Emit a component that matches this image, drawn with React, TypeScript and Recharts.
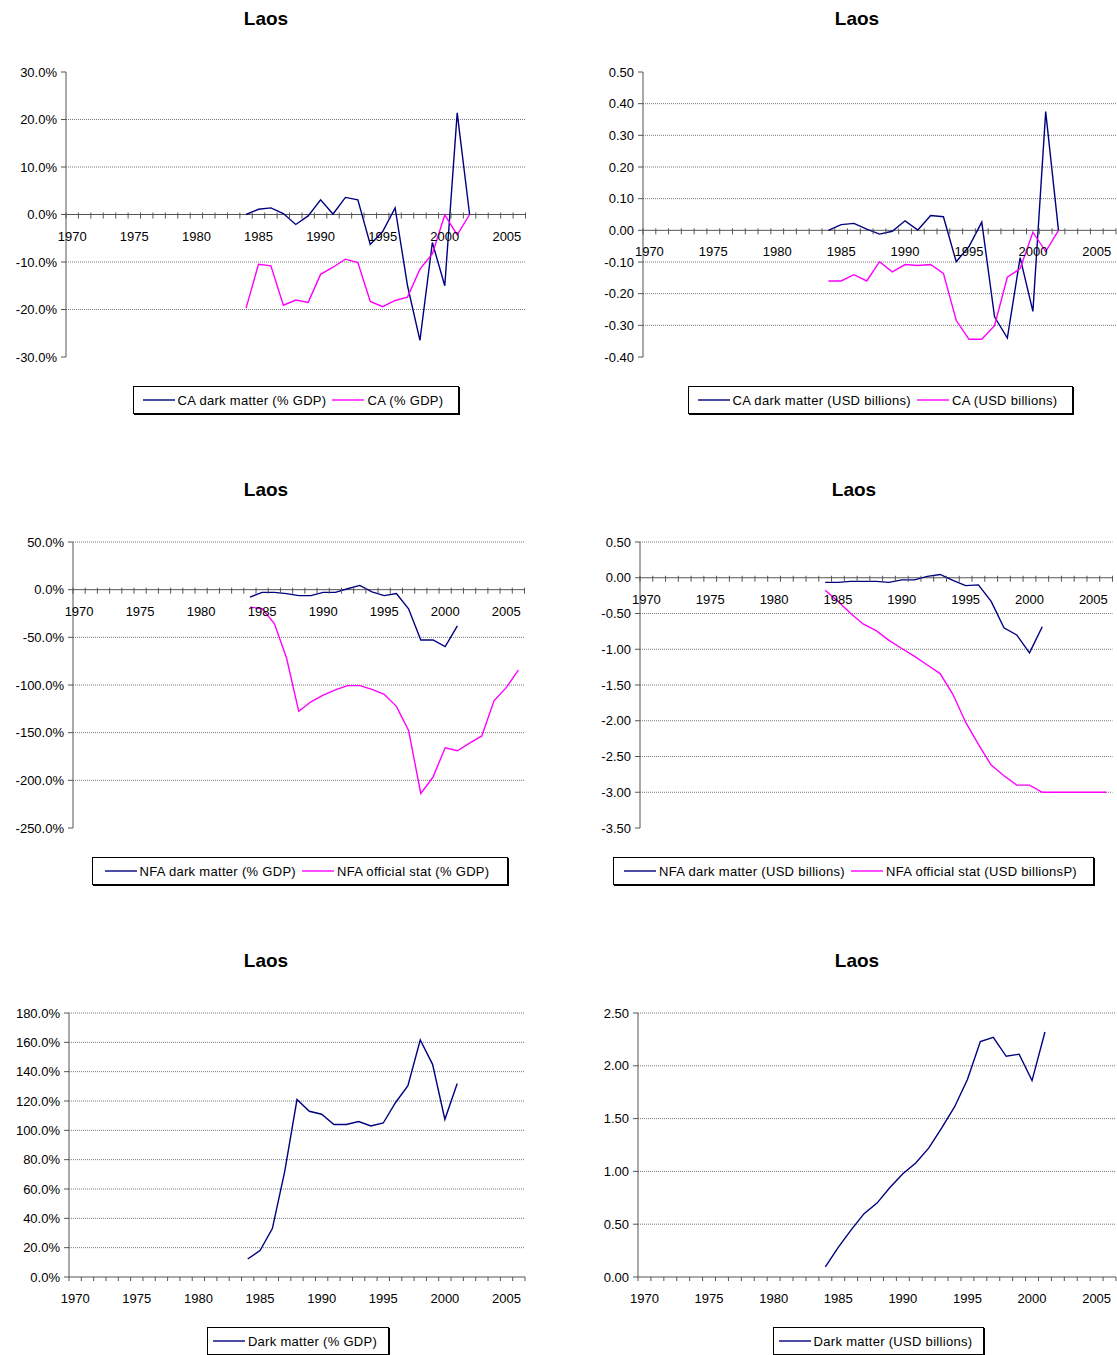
import { LineChart, Line, XAxis, YAxis, CartesianGrid, ReferenceLine } from 'recharts'

const YEARS = [
  1970, 1971, 1972, 1973, 1974, 1975, 1976, 1977, 1978, 1979, 1980, 1981, 1982,
  1983, 1984, 1985, 1986, 1987, 1988, 1989, 1990, 1991, 1992, 1993, 1994, 1995,
  1996, 1997, 1998, 1999, 2000, 2001, 2002, 2003, 2004, 2005, 2006,
]
const FIRST_YEAR = 1984

// current account, % of GDP (1984-2002)
const caDarkPct = [0, 1.1, 1.4, 0.2, -2.1, -0.3, 3.1, 0.1, 3.6, 3.1, -6.3, -3.6, 1.4, -15, -26.5, -5.9, -15, 21.4, 0]
const caPct = [-19.7, -10.5, -10.8, -19.1, -18, -18.5, -12.6, -11.1, -9.4, -10.1, -18.3, -19.4, -18.1, -17.4, -11.5, -8.3, -0.1, -4.3, 0]

// current account, USD billions (1984-2002)
const caDarkUsd = [0, 0.018, 0.022, 0.004, -0.012, -0.003, 0.03, 0.001, 0.047, 0.043, -0.099, -0.051, 0.026, -0.273, -0.34, -0.086, -0.256, 0.375, 0]
const caUsd = [-0.16, -0.16, -0.14, -0.16, -0.099, -0.131, -0.108, -0.111, -0.108, -0.136, -0.284, -0.344, -0.344, -0.301, -0.148, -0.121, -0.006, -0.067, 0]

// net foreign assets, % of GDP
const nfaDarkPct = [-7.9, -2.8, -2.8, -4.1, -6.2, -6.2, -2.8, -2.8, 1, 4.5, -2.4, -6.2, -4.1, -20, -52.8, -52.8, -59.7, -38]
const nfaPct = [-18.3, -20, -35.5, -71.7, -127.6, -117.6, -110.7, -105.2, -100.7, -100.7, -104.5, -109.7, -122.4, -147.6, -213.8, -196.6, -165.9, -169, -161, -153.4, -116.6, -102.8, -84.5]

// net foreign assets, USD billions
const nfaDarkUsd = [-0.065, -0.065, -0.05, -0.05, -0.05, -0.065, -0.03, -0.03, 0.02, 0.046, -0.037, -0.11, -0.1, -0.33, -0.7, -0.8, -1.05, -0.685]
const nfaUsd = [-0.176, -0.33, -0.5, -0.65, -0.74, -0.875, -0.99, -1.1, -1.22, -1.34, -1.63, -2.02, -2.33, -2.62, -2.77, -2.9, -2.9, -3.0, -3.0, -3.0, -3.0, -3.0, -3.0]

// dark matter stock (1984-2001)
const darkPct = [12.3, 18, 33, 71.8, 121, 113, 111, 104, 104, 106, 103, 105, 119, 130.5, 161.6, 145, 107.5, 132]
const darkUsd = [0.095, 0.28, 0.446, 0.6, 0.7, 0.848, 0.978, 1.08, 1.22, 1.41, 1.61, 1.87, 2.23, 2.27, 2.09, 2.11, 1.86, 2.32]

const NAVY = '#000080'
const MAGENTA = '#ff00ff'
const FONT = '"Liberation Sans", Arial, sans-serif'

type Series = { key: string; name: string; color: string; values: number[] }

const pct = (v: number) => `${v.toFixed(1)}%`
const usd = (v: number) => v.toFixed(2)

function buildRows(series: Series[]) {
  return YEARS.map(year => {
    const row: Record<string, number | null> = { year }
    series.forEach(s => {
      const v = s.values[year - FIRST_YEAR]
      row[s.key] = v === undefined ? null : v
    })
    return row
  })
}

type PanelProps = {
  plot: [number, number, number, number] // left, right, top, bottom on page
  title: [number, number]
  legend: [number, number, number]
  domain: [number, number]
  ticks: number[]
  grid: number[]
  fmt: (v: number) => string
  series: Series[]
}

function Panel({ plot, title, legend, domain, ticks, grid, fmt, series }: PanelProps) {
  const [pl, pr, pt, pb] = plot
  const plotW = pr - pl
  const plotH = pb - pt
  const W = plotW + 72
  const H = plotH + 40
  const [min, max] = domain
  const zeroY = 10 + (plotH * max) / (max - min)
  const step = plotW / YEARS.length
  const cross = min < 0

  const XTick = (props: any) => {
    const { x, index, payload } = props
    const y1 = cross ? zeroY - 2 : zeroY
    const y2 = zeroY + 4
    return (
      <g>
        <line x1={x - step / 2} x2={x - step / 2} y1={y1} y2={y2} stroke="#555" />
        {index === YEARS.length - 1 && <line x1={x + step / 2} x2={x + step / 2} y1={y1} y2={y2} stroke="#555" />}
        {payload.value % 5 === 0 && (
          <text x={x} y={zeroY + 26} textAnchor="middle" fontSize={13} fill="#000" fontFamily={FONT}>
            {payload.value}
          </text>
        )}
      </g>
    )
  }

  return (
    <>
      <div style={{ position: 'absolute', left: title[0] - 60, top: title[1] - 11, width: 120, textAlign: 'center', fontFamily: FONT, fontWeight: 'bold', fontSize: 19 }}>
        Laos
      </div>
      <div style={{ position: 'absolute', left: pl - 70, top: pt - 10 }}>
        <LineChart width={W} height={H} data={buildRows(series)} margin={{ top: 10, right: 2, left: 10, bottom: 0 }}>
          <CartesianGrid vertical={false} horizontalValues={grid} stroke="#777" strokeDasharray="1 1" />
          <XAxis dataKey="year" type="number" domain={[1969.5, 2006.5]} ticks={YEARS} interval={0} height={30} axisLine={false} tickLine={false} tick={XTick} />
          <YAxis domain={domain} ticks={ticks} width={60} tickFormatter={fmt} interval={0} axisLine={{ stroke: '#555' }} tickLine={{ stroke: '#555' }} tickSize={5} tickMargin={4} tick={{ fontSize: 13, fill: '#000', fontFamily: FONT }} />
          <ReferenceLine y={0} stroke="#555" />
          {series.map(s => (
            <Line key={s.key} dataKey={s.key} name={s.name} stroke={s.color} strokeWidth={1.4} dot={false} isAnimationActive={false} />
          ))}
        </LineChart>
      </div>
      <div style={{ position: 'absolute', left: legend[0], top: legend[1], width: legend[2] - legend[0], height: 26, border: '1px solid #000', boxShadow: '1px 1px 0 #000', display: 'flex', alignItems: 'center', justifyContent: 'center', fontFamily: FONT, fontSize: 13, letterSpacing: 0.3, background: '#fff' }}>
        {series.map(s => (
          <span key={s.key} style={{ display: 'flex', alignItems: 'center', marginRight: 6 }}>
            <svg width={32} height={8} style={{ marginRight: 3 }}>
              <line x1={0} x2={32} y1={4} y2={4} stroke={s.color} strokeWidth={1.4} />
            </svg>
            {s.name}
          </span>
        ))}
      </div>
    </>
  )
}

export default function App() {
  return (
    <div style={{ position: 'absolute', left: 0, top: 0, width: 1117, height: 1355, background: '#fff' }}>
      <Panel
        plot={[66, 525.5, 72, 357]}
        title={[266, 19]}
        legend={[133, 386, 457]}
        domain={[-30, 30]}
        ticks={[-30, -20, -10, 0, 10, 20, 30]}
        grid={[20, 10, -10, -20]}
        fmt={pct}
        series={[
          { key: 'caDarkPct', name: 'CA dark matter (% GDP)', color: NAVY, values: caDarkPct },
          { key: 'caPct', name: 'CA (% GDP)', color: MAGENTA, values: caPct },
        ]}
      />
      <Panel
        plot={[643, 1116, 72, 357]}
        title={[857, 19]}
        legend={[688, 386, 1071]}
        domain={[-0.4, 0.5]}
        ticks={[-0.4, -0.3, -0.2, -0.1, 0, 0.1, 0.2, 0.3, 0.4, 0.5]}
        grid={[0.4, 0.3, 0.2, 0.1, -0.1, -0.2, -0.3]}
        fmt={usd}
        series={[
          { key: 'caDarkUsd', name: 'CA dark matter (USD billions)', color: NAVY, values: caDarkUsd },
          { key: 'caUsd', name: 'CA (USD billions)', color: MAGENTA, values: caUsd },
        ]}
      />
      <Panel
        plot={[73, 524.5, 542, 828]}
        title={[266, 490]}
        legend={[92, 857, 506]}
        domain={[-250, 50]}
        ticks={[-250, -200, -150, -100, -50, 0, 50]}
        grid={[50, -50, -100, -150, -200]}
        fmt={pct}
        series={[
          { key: 'nfaDarkPct', name: 'NFA dark matter (% GDP)', color: NAVY, values: nfaDarkPct },
          { key: 'nfaPct', name: 'NFA official stat (% GDP)', color: MAGENTA, values: nfaPct },
        ]}
      />
      <Panel
        plot={[640, 1112.5, 542, 828]}
        title={[854, 490]}
        legend={[613, 857, 1092]}
        domain={[-3.5, 0.5]}
        ticks={[-3.5, -3, -2.5, -2, -1.5, -1, -0.5, 0, 0.5]}
        grid={[0.5, -0.5, -1, -1.5, -2, -2.5, -3]}
        fmt={usd}
        series={[
          { key: 'nfaDarkUsd', name: 'NFA dark matter (USD billions)', color: NAVY, values: nfaDarkUsd },
          { key: 'nfaUsd', name: 'NFA official stat (USD billionsP)', color: MAGENTA, values: nfaUsd },
        ]}
      />
      <Panel
        plot={[69, 525, 1013, 1277]}
        title={[266, 961]}
        legend={[207, 1327, 387]}
        domain={[0, 180]}
        ticks={[0, 20, 40, 60, 80, 100, 120, 140, 160, 180]}
        grid={[20, 40, 60, 80, 100, 120, 140, 160, 180]}
        fmt={pct}
        series={[{ key: 'darkPct', name: 'Dark matter (% GDP)', color: NAVY, values: darkPct }]}
      />
      <Panel
        plot={[638, 1116, 1013, 1277]}
        title={[857, 961]}
        legend={[773, 1327, 982]}
        domain={[0, 2.5]}
        ticks={[0, 0.5, 1, 1.5, 2, 2.5]}
        grid={[0.5, 1, 1.5, 2, 2.5]}
        fmt={usd}
        series={[{ key: 'darkUsd', name: 'Dark matter (USD billions)', color: NAVY, values: darkUsd }]}
      />
    </div>
  )
}
